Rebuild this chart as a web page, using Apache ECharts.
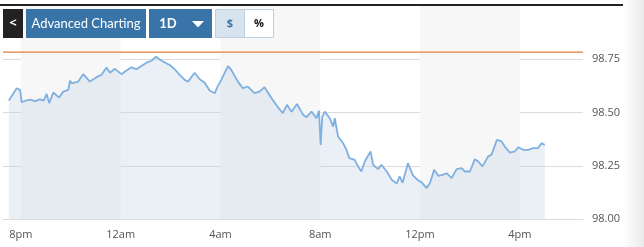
<!DOCTYPE html>
<html>
<head>
<meta charset="utf-8">
<script src="https://cdn.jsdelivr.net/npm/echarts@6/dist/echarts.min.js"></script>
<style>
html,body{margin:0;padding:0;background:#fff;}
#chart{width:644px;height:247px;}
</style>
</head>
<body>
<div id="chart"></div>
<script>
// intraday quote, clock times (8pm .. 5pm next day)
var times = ['19:31','19:50','19:58','20:02','20:10','20:22','20:34','20:46','20:55','21:02','21:08','21:18','21:32','21:42','21:54','21:58',
    '22:02','22:18','22:30','22:46','23:02','23:14','23:26','23:34','23:46','00:02','00:14','00:26','00:38','01:02','01:14','01:25',
    '01:33','01:42','01:58','02:10','02:22','02:34','02:42','02:58','03:10','03:22','03:34','03:46','03:54','04:02','04:18','04:26',
    '04:30','04:42','04:54','05:06','05:22','05:34','05:46','06:03','06:18','06:30','06:40','06:51','07:04','07:19','07:27','07:39',
    '07:51','07:57','08:01','08:05','08:11','08:23','08:31','08:35','08:43','08:55','09:03','09:10','09:23','09:31','09:39','09:47',
    '10:01','10:07','10:19','10:27','10:40','10:52','11:04','11:11','11:18','11:31','11:43','11:55','12:04','12:16','12:24','12:34',
    '12:44','12:56','13:04','13:16','13:28','13:40','13:48','14:00','14:12','14:20','14:30','14:44','14:52','15:05','15:16','15:24',
    '15:36','15:48','15:56','16:08','16:20','16:32','16:44','16:52','17:00'];
var prices = [98.556,98.614,98.606,98.548,98.555,98.560,98.553,98.562,98.556,98.587,98.544,98.594,98.570,98.598,98.606,98.650,
    98.637,98.645,98.680,98.645,98.666,98.677,98.711,98.687,98.705,98.680,98.697,98.712,98.703,98.734,98.743,98.762,
    98.750,98.739,98.723,98.703,98.677,98.653,98.645,98.687,98.656,98.640,98.603,98.590,98.625,98.653,98.718,98.700,
    98.692,98.645,98.614,98.622,98.591,98.598,98.619,98.567,98.525,98.497,98.536,98.504,98.540,98.489,98.478,98.504,
    98.473,98.508,98.348,98.481,98.504,98.473,98.434,98.473,98.387,98.356,98.325,98.286,98.278,98.247,98.223,98.270,
    98.317,98.255,98.234,98.255,98.223,98.184,98.166,98.200,98.170,98.262,98.205,98.182,98.172,98.145,98.169,98.231,
    98.203,98.208,98.215,98.192,98.234,98.239,98.223,98.223,98.281,98.270,98.247,98.294,98.302,98.372,98.364,98.340,
    98.312,98.317,98.337,98.325,98.325,98.333,98.333,98.356,98.348];
var prevClose = 98.783;
var tickTimes = ['20:00','00:00','04:00','08:00','12:00','16:00'];
var tickLabels = ['8pm','12am','4am','8am','12pm','4pm'];
// shaded sessions
var bands = [['20:00','00:00'],['04:00','08:00'],['12:00','16:00']];

var xMin = -43, xMax = 1352;

// minutes since 8pm
function toMin(t){
    var p = t.split(':');
    var m = parseInt(p[0],10)*60 + parseInt(p[1],10) - 1200;
    if(m < -60) m += 1440;
    return m;
}

var seriesData = [];
for(var i=0;i<times.length;i++){
    seriesData.push([toMin(times[i]), prices[i]]);
}
var tickValues = tickTimes.map(toMin);
var bandData = bands.map(function(b){
    var end = toMin(b[1]);
    if(end === 0) end = 240;
    return [{xAxis: toMin(b[0])},{xAxis: end}];
});

var blue = '#3874a8';
var graphics = [
    {type:'rect', left:622, top:0, shape:{width:22,height:247}, silent:true,
        style:{fill:new echarts.graphic.LinearGradient(0,0,1,0,[{offset:0,color:'rgba(235,235,235,0)'},{offset:1,color:'#e9e9e9'}])}},
    {type:'rect', shape:{x:0,y:4,width:623,height:2}, style:{fill:'#222'}},
    {type:'rect', shape:{x:3,y:9,width:20,height:29}, style:{fill:'#222'}},
    {type:'text', x:13, y:23.5, style:{text:'<', fill:'#fff', font:'bold 13px "Open Sans"', align:'center', verticalAlign:'middle'}},
    {type:'rect', shape:{x:26,y:9,width:120,height:29}, style:{fill:blue}},
    {type:'text', x:86, y:23.5, style:{text:'Advanced Charting', fill:'#fff', font:'13px Lato', align:'center', verticalAlign:'middle'}},
    {type:'rect', shape:{x:149,y:9,width:63,height:29}, style:{fill:blue}},
    {type:'text', x:168, y:23.5, style:{text:'1D', fill:'#fff', font:'bold 13px Lato', align:'center', verticalAlign:'middle'}},
    {type:'polygon', shape:{points:[[192,21],[204,21],[198,27.5]]}, style:{fill:'#fff'}},
    {type:'rect', shape:{x:215.5,y:9.5,width:29,height:28}, style:{fill:'#d7e4ef', stroke:'#bcd0e2', lineWidth:1}},
    {type:'text', x:230, y:23.5, style:{text:'$', fill:blue, font:'bold 11px "Open Sans"', align:'center', verticalAlign:'middle'}},
    {type:'rect', shape:{x:244.5,y:9.5,width:29,height:28}, style:{fill:'#fff', stroke:'#bcd0e2', lineWidth:1}},
    {type:'text', x:259, y:23.5, style:{text:'%', fill:'#111', font:'bold 11px "Open Sans"', align:'center', verticalAlign:'middle'}}
];
// keep the toolbar above the plot
graphics.forEach(function(g){ g.z = 100; });

var chart = echarts.init(document.getElementById('chart'));
chart.setOption({
    animation: false,
    grid: {left:3, right:61, top:6, bottom:28, containLabel:false},
    xAxis: {
        type: 'value',
        min: xMin,
        max: xMax,
        axisLine: {show:true, lineStyle:{color:'#dcdcdc', width:1}},
        axisTick: {show:false},
        splitLine: {show:false},
        axisLabel: {
            customValues: tickValues,
            color: '#555',
            fontSize: 11,
            fontFamily: 'Open Sans',
            margin: 10,
            formatter: function(v){
                var idx = tickValues.indexOf(v);
                return idx >= 0 ? tickLabels[idx] : '';
            }
        }
    },
    yAxis: {
        type: 'value',
        position: 'right',
        min: 98,
        max: 99,
        interval: 0.25,
        axisLine: {show:false},
        axisTick: {show:false},
        splitLine: {show:true, lineStyle:{color:['#dcdcdc','#dcdcdc','#dcdcdc','#dcdcdc','rgba(0,0,0,0)'], width:1}},
        axisLabel: {
            color: '#555',
            fontSize: 11,
            fontFamily: 'Open Sans',
            margin: 9,
            showMaxLabel: false,
            formatter: function(v){ return v >= 99 ? '' : v.toFixed(2); }
        }
    },
    series: [{
        type: 'line',
        data: seriesData,
        showSymbol: false,
        symbol: 'none',
        lineStyle: {color:'#7fb0e0', width:1.8},
        areaStyle: {color:'rgba(195,213,229,0.5)', origin:'start'},
        markArea: {
            silent: true,
            itemStyle: {color:'#f7f7f7'},
            data: bandData
        }
    }, {
        // previous close
        type: 'line',
        data: [[xMin, prevClose], [xMax, prevClose]],
        showSymbol: false,
        symbol: 'none',
        silent: true,
        z: 3,
        itemStyle: {color:'#e5803a'},
        lineStyle: {color:'#e5803a', width:1.2}
    }],
    graphic: graphics
});
</script>
</body>
</html>
